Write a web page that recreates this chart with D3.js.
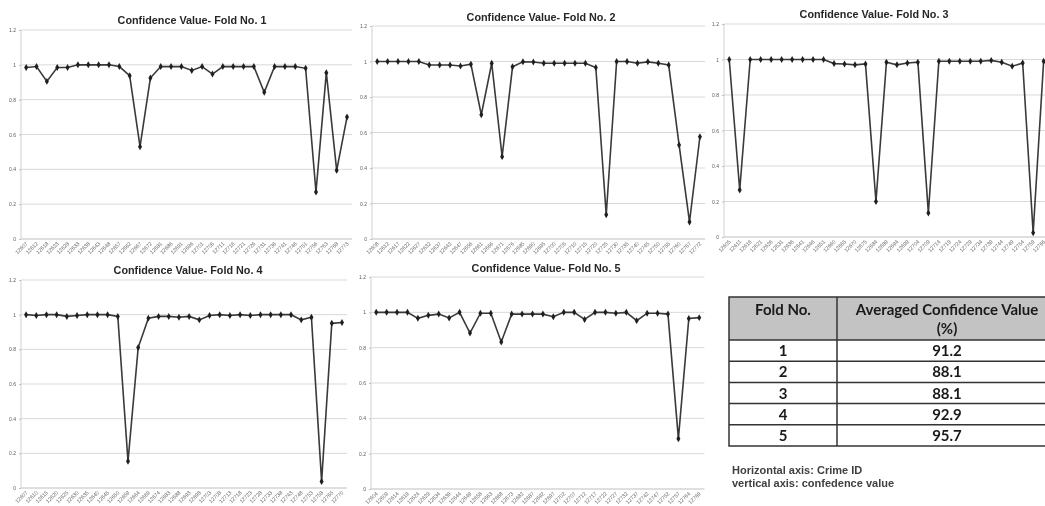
<!DOCTYPE html>
<html>
<head>
<meta charset="utf-8">
<script src="https://cdn.jsdelivr.net/npm/d3@7"></script>
<style>
    body { margin: 0; background: #fff; }
    #chart { will-change: transform; }
    .chart-title { font-family: "Liberation Sans", Arial, sans-serif; font-weight: bold; font-size: 10.8px; fill: #262626; text-anchor: middle; }
    .y-axis text { font-family: "Liberation Sans", Arial, sans-serif; font-size: 5px; fill: #595959; }
    .y-axis path { display: none; }
    .y-axis line { stroke: #bfbfbf; }
    .x-label { font-family: "Liberation Sans", Arial, sans-serif; font-size: 5.4px; fill: #666; text-anchor: end; }
    .grid line { stroke: #d9d9d9; stroke-width: 1; }
    .fold-line { fill: none; stroke: #3a3a3a; stroke-width: 1.6; }
    .fold-dot { fill: #1f1f1f; }
    .tbl-text { font-family: Lato, "Open Sans", sans-serif; font-weight: bold; fill: #1a1a1a; text-anchor: middle; }
    .note { font-family: "Liberation Sans", Arial, sans-serif; font-weight: bold; font-size: 11px; fill: #404040; }
</style>
</head>
<body>
<svg id="chart" width="1045" height="506"></svg>
<script>

// ---- data ----
let yTicks = [0, 0.2, 0.4, 0.6, 0.8, 1.0, 1.2];

let fold1Ids = ["12607", "12612", "12618", "12623", "12628", "12633", "12638", "12643", "12648", "12657", "12662", "12667",
    "12672", "12681", "12686", "12691", "12696", "12701", "12706", "12711", "12716", "12721", "12726", "12731",
    "12736", "12741", "12746", "12751", "12756", "12763", "12768", "12773"];
let fold1Values = [0.985, 0.99, 0.905, 0.985, 0.985, 1.0, 1.0, 1.0, 1.0, 0.99, 0.938, 0.53,
    0.924, 0.99, 0.99, 0.99, 0.968, 0.99, 0.947, 0.99, 0.99, 0.99, 0.99, 0.842,
    0.99, 0.99, 0.99, 0.98, 0.27, 0.955, 0.394, 0.70];

let fold2Ids = ["12608", "12612", "12617", "12622", "12627", "12632", "12637", "12642", "12647", "12656", "12661", "12666",
    "12671", "12676", "12685", "12690", "12695", "12700", "12705", "12710", "12715", "12720", "12725", "12730",
    "12735", "12740", "12745", "12750", "12755", "12760", "12767", "12772"];
let fold2Values = [1.0, 1.0, 1.0, 1.0, 1.0, 0.98, 0.98, 0.98, 0.975, 0.985, 0.70, 0.99,
    0.464, 0.97, 0.998, 0.997, 0.99, 0.99, 0.99, 0.99, 0.99, 0.966, 0.137, 1.0,
    1.0, 0.99, 0.998, 0.99, 0.98, 0.53, 0.096, 0.576];

let fold3Ids = ["12605", "12611", "12616", "12621", "12626", "12631", "12636", "12641", "12646", "12651", "12660", "12665",
    "12670", "12675", "12684", "12689", "12694", "12699", "12704", "12709", "12714", "12719", "12724", "12729",
    "12734", "12739", "12744", "12749", "12754", "12759", "12766"];
let fold3Values = [1.0, 0.265, 1.0, 1.0, 1.0, 1.0, 1.0, 1.0, 1.0, 1.0, 0.977, 0.975,
    0.97, 0.975, 0.20, 0.985, 0.97, 0.98, 0.985, 0.135, 0.99, 0.99, 0.99, 0.99,
    0.99, 0.995, 0.985, 0.962, 0.98, 0.024, 0.99];

let fold4Ids = ["12607", "12610", "12615", "12620", "12625", "12630", "12635", "12640", "12645", "12650", "12659", "12664",
    "12669", "12674", "12683", "12688", "12693", "12698", "12703", "12708", "12713", "12718", "12723", "12728",
    "12733", "12738", "12743", "12748", "12753", "12758", "12765", "12770"];
let fold4Values = [1.0, 0.995, 1.0, 1.0, 0.99, 0.995, 1.0, 1.0, 1.0, 0.99, 0.154, 0.81,
    0.98, 0.99, 0.99, 0.985, 0.99, 0.97, 0.995, 1.0, 0.995, 1.0, 0.995, 1.0,
    1.0, 1.0, 1.0, 0.97, 0.985, 0.038, 0.95, 0.955];

let fold5Ids = ["12604", "12609", "12614", "12619", "12624", "12629", "12634", "12639", "12644", "12649", "12658", "12663",
    "12668", "12673", "12682", "12687", "12692", "12697", "12702", "12707", "12712", "12717", "12722", "12727",
    "12732", "12737", "12742", "12747", "12752", "12757", "12764", "12769"];
let fold5Values = [1.0, 1.0, 1.0, 1.0, 0.966, 0.983, 0.99, 0.968, 1.0, 0.883, 0.995, 0.995,
    0.832, 0.99, 0.99, 0.99, 0.99, 0.975, 1.0, 1.0, 0.96, 1.0, 1.0, 0.995,
    1.0, 0.953, 0.995, 0.995, 0.99, 0.285, 0.965, 0.97];

let tableFolds = ["1", "2", "3", "4", "5"];
let tableAverages = ["91.2", "88.1", "88.1", "92.9", "95.7"];


/*
 * LineChart - one fold panel
 * @param svg     -- the svg selection to draw into
 * @param ids     -- crime ids (x categories)
 * @param values  -- confidence values
 * @param config  -- title and placement of the panel
 */

class LineChart {

    constructor(svg, ids, values, config) {
        this.svg = svg;
        this.ids = ids;
        this.values = values;
        this.config = config;

        this.initVis();
    }

    initVis() {
        let vis = this;
        let c = vis.config;

        vis.g = vis.svg.append("g").attr("class", "fold-chart");

        vis.x = d3.scaleBand()
            .domain(vis.ids)
            .range([c.left, c.left + c.band * vis.ids.length]);

        vis.y = d3.scaleLinear()
            .domain([0, 1.2])
            .range([c.bottom, c.top]);

        // Headline
        vis.g.append("text")
            .attr("class", "chart-title")
            .attr("x", c.titleX)
            .attr("y", c.titleY)
            .text(c.title);

        vis.wrangleData();
    }

    wrangleData() {
        let vis = this;

        vis.displayData = vis.ids.map((id, i) => ({id: id, value: vis.values[i]}));

        vis.updateVis();
    }

    updateVis() {
        let vis = this;
        let x0 = vis.x.range()[0], x1 = vis.x.range()[1];

        // gridlines
        vis.g.append("g")
            .attr("class", "grid")
            .selectAll("line")
            .data(yTicks.filter(d => d > 0))
            .enter().append("line")
            .attr("x1", x0)
            .attr("x2", x1)
            .attr("y1", d => vis.y(d))
            .attr("y2", d => vis.y(d));

        // axis lines
        vis.g.append("line")
            .attr("x1", x0).attr("x2", x1)
            .attr("y1", vis.y(0)).attr("y2", vis.y(0))
            .attr("stroke", "#bfbfbf");
        vis.g.append("line")
            .attr("x1", x0).attr("x2", x0)
            .attr("y1", vis.y(0)).attr("y2", vis.y(1.2))
            .attr("stroke", "#d0d0d0");

        let yAxis = d3.axisLeft(vis.y)
            .tickValues(yTicks)
            .tickSize(2)
            .tickPadding(3)
            .tickFormat(d3.format(".1~f"));

        vis.g.append("g")
            .attr("class", "y-axis")
            .attr("transform", "translate(" + x0 + ",0)")
            .call(yAxis);

        // x labels, rotated
        vis.g.selectAll(".x-label")
            .data(vis.displayData)
            .enter().append("text")
            .attr("class", "x-label")
            .attr("transform", d => "translate(" + (vis.x(d.id) + vis.x.bandwidth() / 2 + 2) + "," + (vis.y(0) + 5) + ") rotate(-45)")
            .text(d => d.id);

        // line
        let line = d3.line()
            .x(d => vis.x(d.id) + vis.x.bandwidth() / 2)
            .y(d => vis.y(d.value));

        vis.g.append("path")
            .datum(vis.displayData)
            .attr("class", "fold-line")
            .attr("d", line);

        // markers
        vis.g.selectAll(".fold-dot")
            .data(vis.displayData)
            .enter().append("path")
            .attr("class", "fold-dot")
            .attr("d", d3.symbol().type(d3.symbolDiamond).size(14))
            .attr("transform", d => "translate(" + (vis.x(d.id) + vis.x.bandwidth() / 2) + "," + vis.y(d.value) + ")");
    }
}


let svg = d3.select("#chart");

new LineChart(svg, fold1Ids, fold1Values,
    {title: "Confidence Value- Fold No. 1", left: 21, band: 10.35, top: 30, bottom: 239, titleX: 192, titleY: 24});
new LineChart(svg, fold2Ids, fold2Values,
    {title: "Confidence Value- Fold No. 2", left: 372, band: 10.41, top: 26, bottom: 239, titleX: 541, titleY: 21});
new LineChart(svg, fold3Ids, fold3Values,
    {title: "Confidence Value- Fold No. 3", left: 724, band: 10.48, top: 24, bottom: 237, titleX: 874, titleY: 18});
new LineChart(svg, fold4Ids, fold4Values,
    {title: "Confidence Value- Fold No. 4", left: 21, band: 10.19, top: 280, bottom: 488, titleX: 188, titleY: 274});
new LineChart(svg, fold5Ids, fold5Values,
    {title: "Confidence Value- Fold No. 5", left: 371, band: 10.42, top: 277, bottom: 489, titleX: 546, titleY: 272});


/*
 * Summary table
 */

let tbl = {left: 729, mid: 837, right: 1057, top: 297, header: 340, row: 21.2};
let tg = svg.append("g").attr("class", "summary-table");

tg.append("rect")
    .attr("x", tbl.left).attr("y", tbl.top)
    .attr("width", tbl.right - tbl.left).attr("height", tbl.header - tbl.top)
    .attr("fill", "#c3c3c3");

let rowY = d3.scaleBand()
    .domain(tableFolds)
    .range([tbl.header, tbl.header + tbl.row * tableFolds.length]);

tg.selectAll(".row-line")
    .data(tableFolds)
    .enter().append("line")
    .attr("x1", tbl.left).attr("x2", tbl.right)
    .attr("y1", d => rowY(d)).attr("y2", d => rowY(d))
    .attr("stroke", "#333").attr("stroke-width", 1.5);

let tblBottom = rowY.range()[1];
tg.append("rect")
    .attr("x", tbl.left).attr("y", tbl.top)
    .attr("width", tbl.right - tbl.left).attr("height", tblBottom - tbl.top)
    .attr("fill", "none").attr("stroke", "#333").attr("stroke-width", 1.5);
tg.append("line")
    .attr("x1", tbl.mid).attr("x2", tbl.mid)
    .attr("y1", tbl.top).attr("y2", tblBottom)
    .attr("stroke", "#333").attr("stroke-width", 1.5);

let col1 = (tbl.left + tbl.mid) / 2, col2 = (tbl.mid + tbl.right) / 2;

tg.append("text").attr("class", "tbl-text").attr("x", col1).attr("y", 315).style("font-size", "15px").text("Fold No.");
tg.append("text").attr("class", "tbl-text").attr("x", col2).attr("y", 315).style("font-size", "15px").text("Averaged Confidence Value");
tg.append("text").attr("class", "tbl-text").attr("x", col2).attr("y", 334).style("font-size", "15px").text("(%)");

tg.selectAll(".fold-no")
    .data(tableFolds)
    .enter().append("text")
    .attr("class", "tbl-text fold-no")
    .attr("x", col1)
    .attr("y", d => rowY(d) + rowY.bandwidth() / 2 + 5.5)
    .style("font-size", "15px")
    .text(d => d);

tg.selectAll(".fold-avg")
    .data(tableFolds)
    .enter().append("text")
    .attr("class", "tbl-text fold-avg")
    .attr("x", col2)
    .attr("y", d => rowY(d) + rowY.bandwidth() / 2 + 5.5)
    .style("font-size", "15px")
    .text((d, i) => tableAverages[i]);

svg.append("text").attr("class", "note").attr("x", 732).attr("y", 474).text("Horizontal axis: Crime ID");
svg.append("text").attr("class", "note").attr("x", 732).attr("y", 487).text("vertical axis: confedence value");

</script>
</body>
</html>
